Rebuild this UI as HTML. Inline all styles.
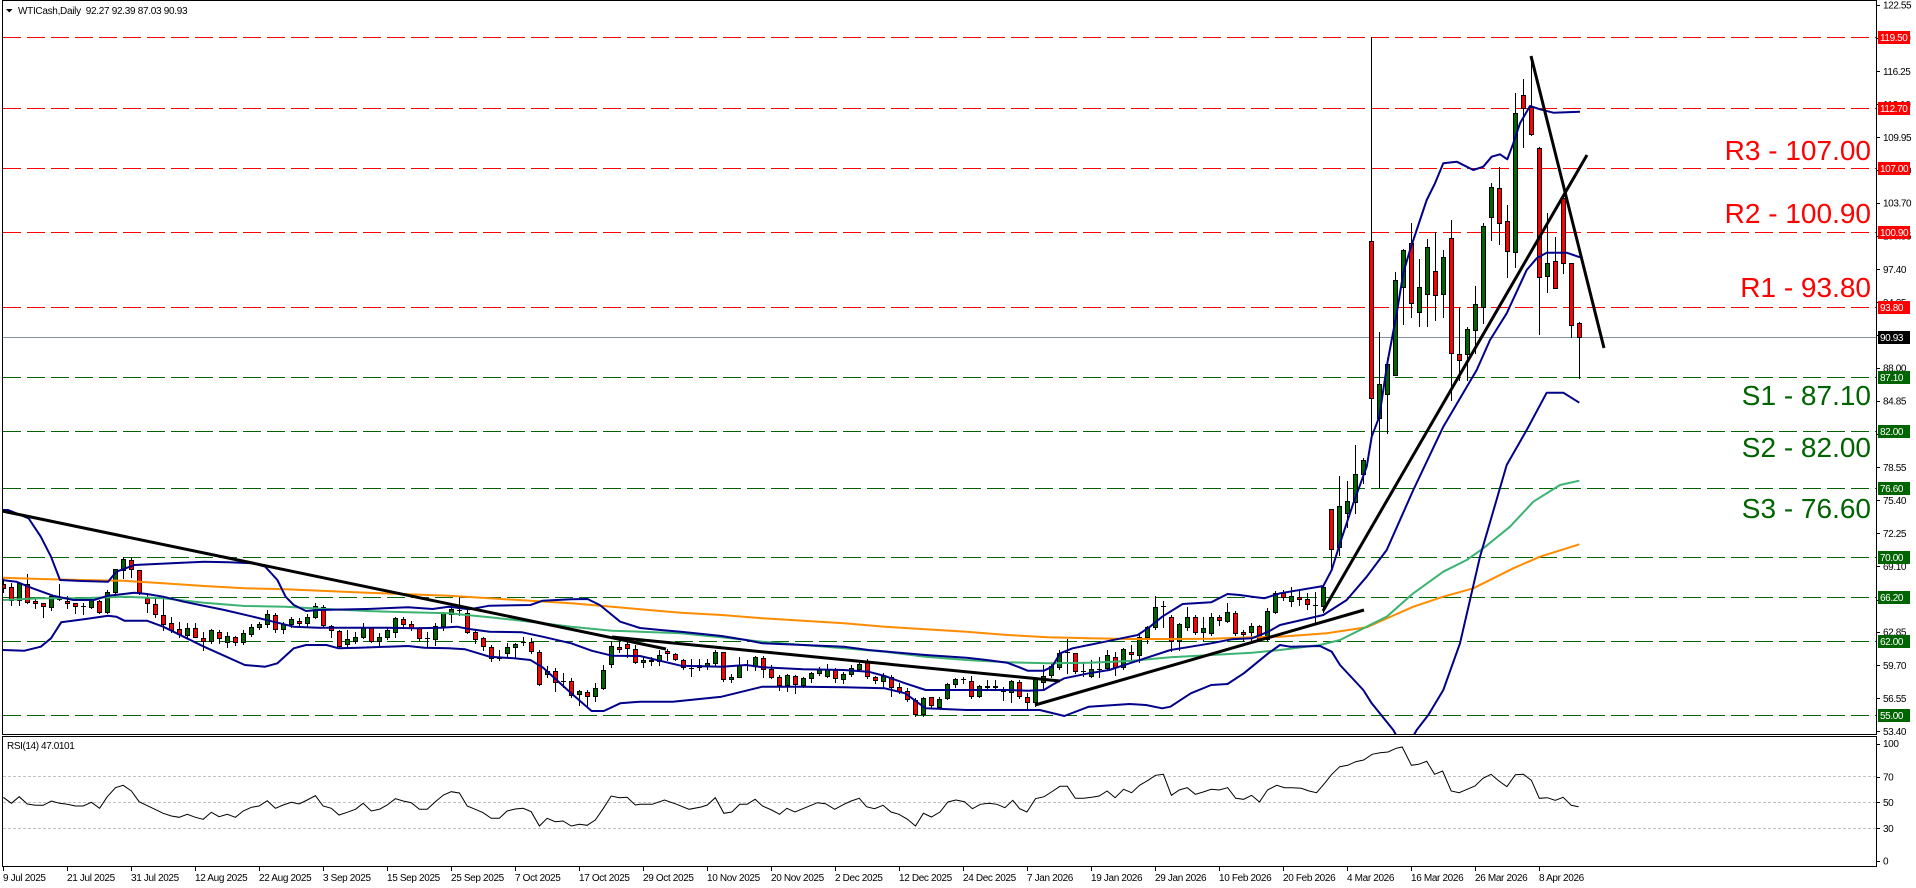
<!DOCTYPE html>
<html><head><meta charset="utf-8"><style>
html,body{margin:0;padding:0;background:#fff;}
svg{display:block;font-family:"Liberation Sans",sans-serif;}
</style></head><body>
<svg id="c" xmlns="http://www.w3.org/2000/svg" width="1916" height="888" viewBox="0 0 1916 888"></svg>
<script>
(function(){
var s='';
function py(p){return 307-(p-93.8)*10.504;}
function pts(a){return a.map(function(q){return q[0].toFixed(1)+','+q[1].toFixed(1);}).join(' ');}
s+='<rect x="0" y="0" width="1916" height="888" fill="#fff"/>';
s+='<defs><clipPath id="mc"><rect x="3" y="1" width="1873" height="733"/></clipPath></defs>';
// levels
var R=[119.5,112.7,107,100.9,93.8],S=[87.1,82,76.6,70,66.2,62,55];
R.forEach(function(p){var y=Math.round(py(p))+0.5;s+='<line x1="3" x2="1876" y1="'+y+'" y2="'+y+'" stroke="#ff0000" stroke-width="1" stroke-dasharray="18,6" shape-rendering="crispEdges"/>';});
S.forEach(function(p){var y=Math.round(py(p))+0.5;s+='<line x1="3" x2="1876" y1="'+y+'" y2="'+y+'" stroke="#006400" stroke-width="1" stroke-dasharray="18,6" shape-rendering="crispEdges"/>';});
var gy=Math.round(py(90.93))+0.5;
s+='<line x1="3" x2="1876" y1="'+gy+'" y2="'+gy+'" stroke="#8090a0" stroke-width="1" shape-rendering="crispEdges"/>';
// candles
var C=[
['r',584,588,578,592],['r',587.3,600,583,605],['g',583.3,600,581.7,605],['r',584.3,601.7,574,603.3],['r',601.3,603.3,598,608],
['r',603,605.7,603,616.7],['g',595.7,606.7,595.7,610],['r',597.7,599.3,584,600],['r',600.7,603.3,596,608.3],['r',603,606,603,613.3],
['d',606,606,602.7,614.3],['g',600.3,607.3,597.7,608.3],['r',601.3,612.3,600,613.3],['g',592,612.3,590,613.3],['g',569.3,592.3,569.3,595],
['g',559.3,570,557.3,578.3],['r',560.3,569.3,558.3,577.3],['r',570.3,593.3,569.7,594],['r',598.3,603.3,593.3,611.7],['r',604.3,614.3,596.7,616.7],
['r',615.3,624.3,596.7,630],['r',623.3,630,616.7,631.7],['r',629.3,634,621.7,636.7],['g',628.3,634.7,623.3,636.7],['r',628.3,636.7,623.3,637.3],
['r',638.3,640.7,631.7,650],['g',630,641,629.3,643.3],['r',631.7,638.3,630,643.3],['g',636,642,631.7,647.3],['r',636.7,642.3,635.7,645],
['g',632.7,642.3,630,644],['g',627.3,634,624.3,636],['g',624.3,627.3,622.3,629],['g',614,624.3,610.3,626.7],['r',615.3,629,613.3,631.7],
['g',624,629,621.7,633.3],['g',619.3,624.3,616.7,626.7],['r',620.7,623.3,618.3,625],['g',616.7,623.3,614.3,626.7],['g',606,617.3,602.7,618.3],
['r',607.3,625,605,626.7],['r',626,630,625,636.7],['r',631,645.7,630,648.3],['g',639.3,644.3,630,646.7],['g',636.7,641,631.7,643.3],
['g',626.7,636.7,622.7,638.3],['r',626.7,641,626.7,642],['g',637.3,641,633.3,647.3],['g',630,636.7,627.3,638.7],['g',618.3,631.7,616.7,636.7],
['r',619.3,624.3,616.7,626.7],['r',624.3,627.7,620.7,630],['r',628.3,638.3,626.7,640],['d',638.3,638.3,631.7,647.3],['g',625.7,639.3,623.3,645],
['g',613.3,625.7,611.7,630],['g',609.3,614.3,603.3,621.7],['d',610,610,597.3,615],['r',612.7,631.7,610,632.7],['r',632.3,639.3,630,643.3],
['r',638.3,645.7,636.7,650],['r',646.7,657.7,645,661],['d',657.7,657.7,650,660],['g',646.7,653.3,643.3,656.7],['g',644.3,646.7,643.3,657.7],
['d',642.3,642.3,636.7,645],['r',642.3,650.7,638.3,652.7],['r',651.7,684.3,650,685],['g',671.3,674.3,666,676.7],['r',671.3,681.7,668.3,690.7],
['d',681,681,673.3,686.7],['r',680.7,695,678.3,696.7],['g',691.3,694.3,690,705],['r',692.3,695.7,690,707.3],['g',688.3,695.7,683.3,701],
['g',670,688.3,665,689.3],['g',645.7,664.3,641,666.7],['r',646.7,649.3,637.3,651.7],['r',644,648.3,638.3,657.3],['r',649.3,662.3,645,663.3],
['g',660,661.7,656.7,666.7],['g',660,661,656.7,665],['g',655,661,650,665],['r',651,653.3,649.3,660],['r',654.3,659.3,653.3,660],
['r',660,667.3,659.3,668.7],['d',667.7,667.7,659.3,676],['g',665,667.3,659.3,670],['g',663.3,665.7,659.3,669.3],['g',652.3,663.3,650,665],
['r',652.3,679,651.7,680.7],['g',677,679.3,674,682.3],['g',664.7,676.7,657.3,677.3],['d',665,665,660,670],['g',656.7,665.7,655.7,670],
['r',657.7,669.3,655.7,676.7],['r',669.3,676.7,665,678.3],['r',676.7,685,675,690],['g',675,685,674.3,690.7],['r',675.7,684,675,693.3],
['g',678.3,685,676.7,686.7],['g',673.3,678.3,671.7,681.7],['g',669.3,673.3,666.7,675],['g',669.3,675.7,664.3,676.7],['r',670,678.3,668.3,681.7],
['g',674.3,678.7,671.7,682.7],['g',668.3,674.3,665,675.7],['g',664.3,669,661.7,670],['r',661,675.7,659.3,678.3],['r',677.3,680,676,683.3],
['g',675.7,681,673.3,686.7],['r',676.7,686.7,675,695.7],['r',686.7,690.7,683.3,693.3],['r',691,699,688.3,700.7],['r',700,714,698.3,715.7],
['g',697.7,714,696.7,715.7],['r',697.3,705,696.7,706.7],['g',699.3,706.7,696.7,708.3],['g',684,698.3,682.7,699.3],['g',679.3,684,678.3,686.7],
['d',679.3,679.3,676.7,683.3],['r',680.7,695.7,675.7,698.3],['g',686,695.7,685,696.7],['g',686,687.3,680,688.3],['r',685.7,687.3,680,688.3],
['d',690.7,690.7,687.3,700],['g',681,691.7,680,701.7],['r',682.3,696,680,698.3],['r',696.7,701.7,693.3,709.3],['g',679.3,701.7,677.3,706],
['g',676,681.7,665,688.3],['g',665.7,675,663.3,676.7],['g',653.3,666.7,650,669.3],['d',652.3,652.3,639,672.7],['r',653.3,671,652.7,673.3],
['d',671,671,661.7,675.7],['g',669.3,676,660,677.3],['d',668.7,668.7,656.7,676.7],['g',655.3,667.7,650,669.3],['r',656.7,666.7,651.7,675],
['g',649.3,666.7,648.3,669.3],['r',652.3,654.3,645,660],['g',637.3,655,635,662.3],['g',627.3,637.3,626,643.3],['g',607.3,627.3,595.7,629.3],
['d',605.5,605.5,601,626.7],['r',616.7,640.7,615,650.7],['g',624.3,640.7,623.3,650],['g',617.3,626.7,606.7,630],['r',617.3,631.7,615,634],
['g',627.7,631.7,617.3,640],['g',617.3,633.3,613.3,635],['r',617.3,620,615,625],['g',612.3,620.7,603.3,621.7],['r',613.3,632.7,610.7,635],
['r',632.3,634,630,640.7],['g',625.7,632.3,623.3,640],['r',625.7,639,625,640],['g',610.7,639.3,608.3,640],['g',592.7,611.7,591,613.3],
['r',593.3,596.7,590,600],['g',596,601,586.7,606],['r',596.7,599.3,591,604.7],['r',599.3,604,593,609.3],['d',604.7,604.7,591.7,621.7],
['g',586.7,606,586,611.7],['r',509,549.3,509,570],['g',506,546.7,476,555.3],['g',501,513.3,481,526.7],['g',474.3,501.7,445,512.7],
['g',460,474.3,458.3,483.3],['r',241,398.3,37.3,440],['g',384,418.3,332.3,486.7],['g',364,394.3,358,433.3],['g',280,375.3,271.7,375.3],
['g',250,287.3,249.3,324],['r',243.3,303.3,223.3,316.7],['g',287.3,312.3,259.3,326],['g',247.3,294.3,239.3,326],['r',271.3,295.3,232.3,320],
['g',257.3,294.3,250,316.7],['r',238.3,352.7,220,400],['r',354,360,307.7,380],['g',329,354,327.3,380],['g',304.3,330,286,353.3],
['g',226.3,307.3,223,323],['g',187.3,216.7,183.3,240],['r',188.3,223.3,167.3,244],['r',221.3,251.3,205,276.7],['g',113.3,252.3,92.7,266.7],
['r',95.3,108.3,79.3,146.7],['r',107.3,133.7,56,135],['r',148.3,277.3,146.7,334.3],['g',263.3,276.3,213.3,291.7],['r',261.3,287.7,237.3,288.3],
['r',198.3,263.3,193.3,273.3],['r',263.3,325.3,263.3,336.7],['r',323.1,337.1,321.8,378.1]
];
var cs='<g clip-path="url(#mc)" shape-rendering="crispEdges">';
C.forEach(function(c,i){
  var cx=3+8*i;
  var wt=Math.round(c[3]),wb=Math.round(c[4]);
  cs+='<line x1="'+(cx+0.5)+'" x2="'+(cx+0.5)+'" y1="'+wt+'" y2="'+(wb+1)+'" stroke="#000" stroke-width="1"/>';
  var t=Math.round(c[1]),b=Math.round(c[2]);
  if(c[0]==='d'||b-t<1){
    cs+='<line x1="'+(cx-2)+'" x2="'+(cx+3)+'" y1="'+(t+0.5)+'" y2="'+(t+0.5)+'" stroke="#000" stroke-width="1"/>';
  } else {
    var f=c[0]==='g'?'#006400':'#ff0000';
    cs+='<rect x="'+(cx-1.5)+'" y="'+(t+0.5)+'" width="4" height="'+(b-t)+'" fill="'+f+'" stroke="#000" stroke-width="1"/>';
  }
});
cs+='</g>';
s+=cs;
// indicators
var UB=[[2.4,510],[8.2,510],[16.3,513.3],[28.6,518.3],[40.8,536.7],[51,556.7],[60,580],[81.6,581],[108.1,581.7],[116.3,571.7],[134.6,565],[171.4,563.3],[204,561.7],[228.5,562.3],[253,563.3],[265.2,566.7],[277.4,580],[285.6,596.7],[293.8,605],[306,611],[318.2,610],[367.2,609],[408,607.3],[432.5,609],[448.8,606.7],[469.2,609.3],[489.6,605.7],[530.4,605],[542.6,600.7],[571.2,599.3],[587.5,599],[599.8,605],[612,615],[620.2,621.7],[640,628],[660.4,630],[680.8,631.7],[721.6,636],[746.1,640],[762.4,643.3],[803.2,645],[844,646.7],[868.5,650],[905.2,653.3],[925.6,655],[966.4,657.7],[986.8,660],[1007.2,662.7],[1019.4,667.3],[1027.6,670.7],[1043.9,670.7],[1052.1,666.7],[1060.2,653.3],[1072.5,648.3],[1088.8,645],[1105.1,641.7],[1121.4,638.3],[1137.8,635],[1150,626.7],[1162.2,616.7],[1182.6,604],[1211.2,602.3],[1227.5,594],[1239.8,595],[1252,596.7],[1264.2,598.3],[1280,593.3],[1323.3,586],[1331.7,570],[1340,543.3],[1353.3,503.3],[1366.7,466.7],[1371.7,436.7],[1379.3,416.7],[1387.3,363.3],[1396.7,313.3],[1403.3,273],[1410,250],[1426.7,200],[1435,183.3],[1443.3,163.3],[1456.7,161.7],[1473.3,170],[1483.3,166.7],[1491.7,156.7],[1500,154.3],[1507.3,159.3],[1513.3,143.3],[1520,123.3],[1530,106],[1540,109.3],[1553.3,112.7],[1580,111.7]];
var MB=[[2.4,580],[16.3,581.7],[32.6,588.3],[53,595.7],[73.4,600],[93.8,600],[108.1,595.7],[134.6,592.7],[146.9,594],[163.2,596.7],[183.6,601.7],[224.4,610],[253,616.7],[277.4,622.7],[293.8,626.7],[318.2,627.7],[387.6,627.7],[416.2,628.3],[440.6,627.7],[457,626.7],[469.2,629],[489.6,631.7],[522.2,632.3],[542.6,636.7],[571.2,643.3],[591.6,650.7],[612,655.7],[640,656],[680.8,665.7],[721.6,666.7],[746.1,665],[762.4,667.3],[803.2,669.3],[844,670],[868.5,671.7],[884.8,676],[905.2,683.3],[925.6,690],[966.4,690],[1007.2,690],[1027.6,690.7],[1043.9,690],[1052.1,685],[1064.3,678.3],[1088.8,673.3],[1109.2,670],[1129.6,663.3],[1150,656.7],[1170.4,650],[1190.8,646.7],[1211.2,643.3],[1231.6,639.3],[1252,638.3],[1268.3,631.7],[1280,625],[1323.3,615],[1346.7,600],[1366.7,576.7],[1386.7,550],[1413.3,490],[1443.3,426.7],[1476.7,370],[1490,340],[1506.7,313.3],[1526.7,270],[1536.7,258.3],[1546.7,252.7],[1566.7,252.7],[1580,257.3]];
var LB=[[2.4,650],[24.5,650.7],[40.8,646.7],[51,638.3],[61.2,622.3],[85.7,619],[108.1,615.7],[116.3,616.7],[124.4,620.7],[146.9,620.7],[163.2,626.7],[183.6,636.7],[204,646.7],[244.8,665],[265.2,666.7],[277.4,663.3],[293.8,648.3],[306,645],[326.4,645],[338.6,648.3],[359,647.7],[387.6,646.7],[408,646],[424.3,647.7],[448.8,648.3],[465.1,649.3],[489.6,656.7],[514.1,658.3],[530.4,660],[542.6,667.3],[571.2,693.3],[591.6,711],[603.8,711],[620.2,703.3],[640,701.7],[672.6,701.7],[721.6,696.7],[762.4,686.7],[803.2,686.7],[844,687.3],[884.8,688.3],[905.2,693.3],[925.6,708.3],[966.4,710],[1039.8,710],[1064.3,716],[1088.8,706.7],[1129.6,704],[1145.9,705],[1162.2,708.3],[1170.4,706.7],[1190.8,693.3],[1211.2,685],[1227.5,684],[1243.8,673.3],[1268.3,653.3],[1280,645],[1290,646.7],[1320,646],[1331.7,651.7],[1340,665],[1363.3,690],[1371.7,703.3],[1393.3,730],[1400,742],[1410,742],[1416.7,730],[1428.3,715],[1443.3,690],[1460,643.3],[1480,556.7],[1506.7,465],[1526.7,430],[1546.7,392.7],[1563.3,392.7],[1579.3,402.7]];
var GM=[[2.4,600],[40.8,598.3],[81.6,598.3],[122.4,596.7],[163.2,598.3],[204,602.7],[244.8,606],[285.6,606.7],[326.4,609],[367.2,611],[408,612.3],[448.8,613.3],[489.6,617.3],[530.4,621.7],[571.2,626.7],[612,630.7],[640,631.7],[680.8,633.3],[721.6,637.3],[762.4,641.7],[803.2,645],[844,648.3],[884.8,651.7],[925.6,656.7],[966.4,660],[1007.2,662.3],[1048,663.3],[1088.8,662.7],[1129.6,661],[1170.4,657.3],[1211.2,655],[1252,652.7],[1280,650],[1320,645],[1340,640],[1366.7,626.7],[1386.7,616.7],[1413.3,593.3],[1443.3,571.7],[1466.7,560],[1483.3,548.3],[1510,526.7],[1533.3,501.7],[1560,485],[1579.3,480.7]];
var OM=[[2.4,577.7],[40.8,579],[81.6,580],[122.4,580.7],[163.2,583.3],[204,586],[244.8,588.3],[285.6,589.3],[326.4,591],[367.2,592.7],[408,594.3],[448.8,595.7],[489.6,598.3],[530.4,600.7],[571.2,603.3],[612,606.7],[640,609.3],[680.8,612.7],[721.6,615],[762.4,618.3],[803.2,620.7],[844,623.3],[884.8,626.7],[925.6,629.3],[966.4,631.7],[1007.2,635],[1048,637.3],[1088.8,638.3],[1129.6,639],[1170.4,639],[1211.2,638.7],[1252,637.3],[1280,636.7],[1326.7,633.3],[1366.7,627.3],[1413.3,606.7],[1443.3,596.7],[1473.3,588.3],[1513.3,568.3],[1540,556.7],[1579.3,544.3]];
s+='<g clip-path="url(#mc)" fill="none" stroke-linejoin="round">';
s+='<polyline points="'+pts(OM)+'" stroke="#ff8c00" stroke-width="2"/>';
s+='<polyline points="'+pts(GM)+'" stroke="#3cb371" stroke-width="2"/>';
s+='<polyline points="'+pts(UB)+'" stroke="#00008b" stroke-width="2"/>';
s+='<polyline points="'+pts(MB)+'" stroke="#00008b" stroke-width="2"/>';
s+='<polyline points="'+pts(LB)+'" stroke="#00008b" stroke-width="2"/>';
// trendlines
var TL=[[2,511,666,649],[612,637,1060,681],[1035,705,1364,610],[1323,611,1587,155],[1531,56,1604,348]];
TL.forEach(function(t){s+='<line x1="'+t[0]+'" y1="'+t[1]+'" x2="'+t[2]+'" y2="'+t[3]+'" stroke="#000" stroke-width="3"/>';});
s+='</g>';
// big labels
var BL=[['R3 - 107.00',160,'#ff0000'],['R2 - 100.90',223,'#ff0000'],['R1 - 93.80',297,'#ff0000'],['S1 - 87.10',405,'#006400'],['S2 - 82.00',457,'#006400'],['S3 - 76.60',518,'#006400']];
BL.forEach(function(b){s+='<text x="1871" y="'+b[1]+'" text-anchor="end" font-size="28" fill="'+b[2]+'">'+b[0]+'</text>';});
// frames
s+='<g shape-rendering="crispEdges" fill="none" stroke="#000" stroke-width="1">';
s+='<rect x="2.5" y="0.5" width="1874" height="734"/>';
s+='<rect x="2.5" y="736.5" width="1874" height="130"/>';
s+='</g>';
// price axis labels
var AL=['122.55','119.40','116.25','113.10','109.95','106.80','103.70','100.55','97.40','94.25','91.10','88.00','84.85','81.70','78.55','75.40','72.25','69.10','65.95','62.85','59.70','56.55','53.40'];
AL.forEach(function(l){var y=py(parseFloat(l));var yr=Math.round(y)+0.5;
  s+='<line x1="1876" x2="1880" y1="'+yr+'" y2="'+yr+'" stroke="#000" stroke-width="1" shape-rendering="crispEdges"/>';
  s+='<text x="1883" y="'+(y+3.6).toFixed(1)+'" font-size="10" letter-spacing="-0.4" fill="#000">'+l+'</text>';});
// level boxes
function box(p,txt,bg,fg){var y=Math.round(py(p));s+='<rect x="1878" y="'+(y-6)+'" width="32" height="13" fill="'+bg+'"/><text x="1880" y="'+(y+4)+'" font-size="10" letter-spacing="-0.4" fill="'+fg+'">'+txt+'</text>';}
R.forEach(function(p){box(p,p.toFixed(2),'#ff0000','#fff');});
box(90.93,'90.93','#000','#fff');
S.forEach(function(p){box(p,p.toFixed(2),'#006400','#fff');});
// header
s+='<path d="M6,9 L12.5,9 L9.25,12.5 Z" fill="#000"/>';
s+='<text x="18" y="14" font-size="10" letter-spacing="-0.3" fill="#000">WTICash,Daily&#160;&#160;92.27 92.39 87.03 90.93</text>';
// RSI
[70,50,30].forEach(function(v){var y=Math.round(866.5-v*1.29)+0.5;s+='<line x1="3" x2="1876" y1="'+y+'" y2="'+y+'" stroke="#c0c0c0" stroke-width="1" stroke-dasharray="3,2" shape-rendering="crispEdges"/>';});
var RL=[[8,232],[28,250],[47,230],[67,252],[87,256],[106,256],[126,243],[146,250],[165,253],[185,258],[204,258],[224,247],[244,265],[263,230],[283,203],[302,196],[322,213],[341,245],[361,257],[380,268],[400,280],[420,288],[439,292],[459,283],[479,292],[498,298],[518,277],[537,290],[557,283],[577,292],[596,273],[616,262],[635,258],[655,242],[675,265],[694,255],[714,247],[733,252],[753,240],[773,227],[792,258],[812,265],[831,285],[851,277],[871,268],[890,250],[910,273],[930,268],[949,255],[969,236],[988,243],[1008,248],[1028,268],[1047,268],[1067,245],[1087,225],[1106,215],[1126,219],[1145,258],[1165,268],[1184,278],[1204,295],[1224,295],[1243,273],[1263,267],[1282,265],[1302,275],[1322,318],[1341,295],[1361,305],[1380,303],[1400,318],[1420,313],[1439,316],[1459,300],[1479,265],[1498,228],[1518,233],[1537,232],[1557,255]];
var RR=[[0,205],[20,205],[40,192],[60,205],[80,220],[100,213],[110,207],[123,185],[137,232],[150,228],[163,205],[175,205],[188,190],[200,210],[215,222],[228,235],[240,217],[253,228],[270,215],[290,200],[303,203],[318,220],[333,205],[345,195],[358,187],[370,212],[383,218],[397,208],[410,228],[423,235],[437,250],[450,270],[463,232],[476,243],[490,228],[503,198],[516,192],[530,197],[543,218],[556,205],[570,202],[583,205],[596,215],[609,193],[620,218],[632,228],[646,188],[660,182],[672,168],[686,151],[698,151],[711,187],[725,187],[738,184],[750,180],[763,165],[776,185],[790,160],[803,170],[816,148],[830,133],[842,118],[855,115],[868,178],[881,162],[894,155],[907,175],[920,168],[933,160],[946,162],[960,155],[973,187],[986,190],[999,178],[1012,198],[1025,162],[1040,148],[1053,155],[1066,155],[1080,157],[1093,165],[1105,170],[1117,145],[1130,115],[1143,92],[1156,88],[1169,77],[1182,72],[1196,55],[1209,50],[1222,48],[1235,37],[1245,33],[1260,88],[1272,85],[1285,76],[1298,115],[1311,105],[1325,165],[1338,170],[1351,160],[1364,150],[1377,127],[1390,115],[1403,135],[1416,152],[1430,116],[1443,115],[1456,133],[1469,187],[1482,185],[1495,193],[1508,184],[1521,208],[1533,212]];
var rp=RL.map(function(q){return [q[0]*0.408,720+q[1]/3];}).concat(RR.map(function(q){return [640+q[0]*0.6122,736+q[1]/3];}));
s+='<polyline points="'+pts(rp)+'" fill="none" stroke="#000" stroke-width="1"/>';
s+='<text x="7" y="749" font-size="10" letter-spacing="-0.4" fill="#000">RSI(14) 47.0101</text>';
[['100',743.5],['70',776.7],['50',802.3],['30',828.3],['0',861]].forEach(function(r){
  var yr=Math.round(r[1])+0.5;
  s+='<line x1="1876" x2="1880" y1="'+yr+'" y2="'+yr+'" stroke="#000" stroke-width="1" shape-rendering="crispEdges"/>';
  s+='<text x="1883" y="'+(r[1]+3.6).toFixed(1)+'" font-size="10" letter-spacing="-0.4" fill="#000">'+r[0]+'</text>';});
// dates
var D=["9 Jul 2025","21 Jul 2025","31 Jul 2025","12 Aug 2025","22 Aug 2025","3 Sep 2025","15 Sep 2025","25 Sep 2025","7 Oct 2025","17 Oct 2025","29 Oct 2025","10 Nov 2025","20 Nov 2025","2 Dec 2025","12 Dec 2025","24 Dec 2025","7 Jan 2026","19 Jan 2026","29 Jan 2026","10 Feb 2026","20 Feb 2026","4 Mar 2026","16 Mar 2026","26 Mar 2026","8 Apr 2026"];
D.forEach(function(d,k){var x=Math.round(3.3+64*k);
  s+='<line x1="'+(x+0.5)+'" x2="'+(x+0.5)+'" y1="867" y2="871" stroke="#000" stroke-width="1" shape-rendering="crispEdges"/>';
  s+='<text x="'+x+'" y="881" font-size="10" letter-spacing="-0.35" fill="#000">'+d+'</text>';});
document.getElementById('c').innerHTML=s;
})();
</script>
</body></html>
